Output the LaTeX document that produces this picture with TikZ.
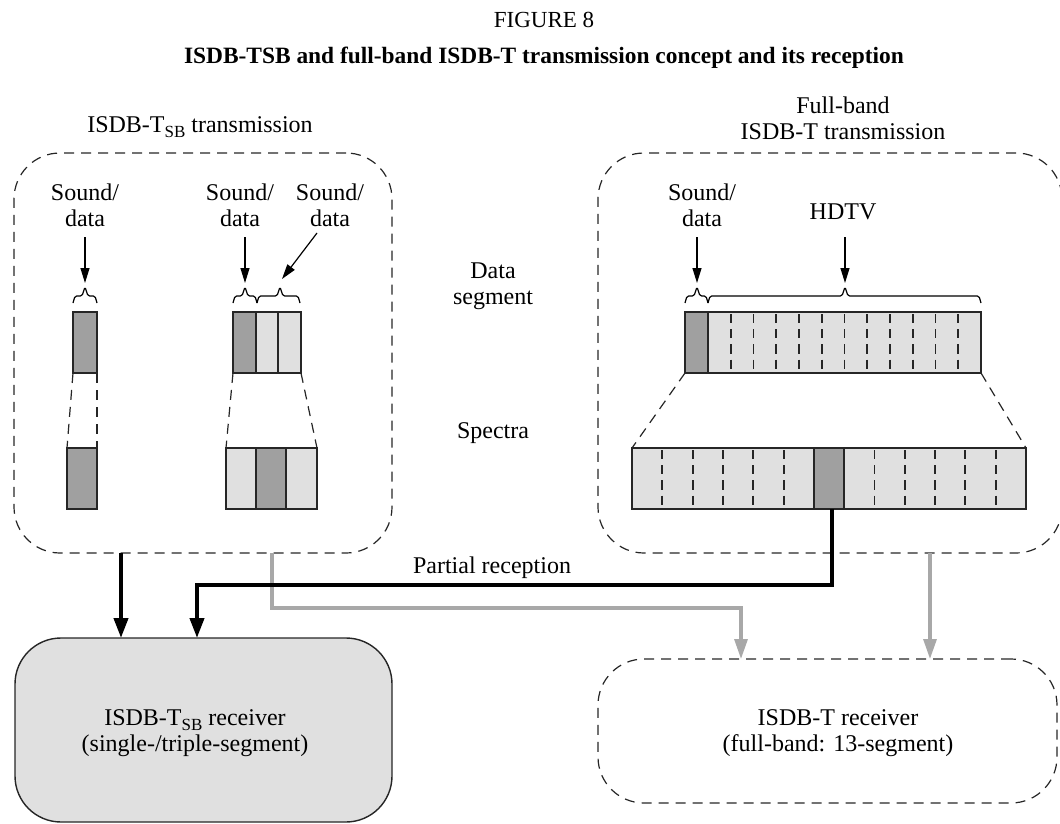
\documentclass[tikz,border=0pt]{standalone}
\usepackage{fontspec}
\setmainfont{Liberation Serif}
\usetikzlibrary{arrows.meta,fit}
\definecolor{dk}{HTML}{A0A0A0}
\definecolor{lt}{HTML}{E0E0E0}
\definecolor{gl}{HTML}{A8A8A8}
\newcommand{\mysubsb}{\raisebox{-0.5ex}{\fontsize{8.5}{9}\selectfont SB}}
\newcommand{\mybrace}[4]{%
  \draw[brc] (#1,303) -- (#1+2,296) -- (#2-3,296) -- (#2,287) -- (#2+3,296) -- (#3-2,296) -- (#3,303);
  \coordinate (#4) at (#2,283);}
\begin{document}
\begin{tikzpicture}[x=0.5pt,y=-0.5pt,
  lbl/.style={font=\fontsize{12}{13}\selectfont, align=center, inner sep=0pt},
  tbox/.style={draw=black!85, dash pattern=on 5pt off 3.5pt, line width=0.6pt, rounded corners=23pt, inner sep=0pt},
  rbox/.style={draw=black!85, fill=lt, line width=0.7pt, rounded corners=23pt, inner sep=0pt},
  seg/.style={draw=black!85, line width=0.9pt},
  dkseg/.style={seg, fill=dk},
  ltseg/.style={seg, fill=lt},
  thinarr/.style={-{Triangle[length=7.5pt,width=4.5pt]}, line width=0.6pt},
  brc/.style={line width=0.6pt, rounded corners=0.8pt},
  zoomline/.style={draw=black!85, dash pattern=on 5pt off 3.5pt, line width=0.6pt},
  divl/.style={draw=black!85, dash pattern=on 4.6pt off 3pt, line width=0.95pt},
  blk/.style={line width=2pt, -{Triangle[length=10pt,width=7pt]}},
  gry/.style={draw=gl, line width=1.6pt, -{Triangle[length=10pt,width=6.5pt]}}
]
\useasboundingbox (0,0) rectangle (1060,824);

% titles
\node[lbl, font=\fontsize{11.5}{12}\selectfont] (fig) at (544,20) {FIGURE 8};
\node[lbl, font=\fontsize{11.7}{12}\selectfont\bfseries] (ttl) at (544,58) {ISDB-TSB and full-band ISDB-T transmission concept and its reception};

% transmission boxes
\coordinate (L1) at (14,153); \coordinate (L2) at (392,553);
\node[tbox, fit=(L1)(L2)] (ltx) {};
\coordinate (R1) at (598,153); \coordinate (R2) at (1062,553);
\node[tbox, fit=(R1)(R2)] (rtx) {};

% labels
\node[lbl] (ltxl) at (200,127) {ISDB-T\mysubsb{} transmission};
\node[lbl] (rtxl) at (843,118) {Full-band\\ISDB-T transmission};
\node[lbl] (sd1) at (85,205) {Sound/\\data};
\node[lbl] (sd2) at (240,205) {Sound/\\data};
\node[lbl] (sd3) at (330,205) {Sound/\\data};
\node[lbl] (sd4) at (702,205) {Sound/\\data};
\node[lbl] (hd) at (843,212) {HDTV};
\node[lbl] (dseg) at (493,286) {Data\\segment};
\node[lbl] (spec) at (493,433) {Spectra};

% braces
\mybrace{73}{85}{97}{b1}
\mybrace{233}{245}{257}{b2}
\mybrace{257}{280}{300}{b3}
\mybrace{685}{697}{708}{b4}
\mybrace{708}{845}{981}{b5}

% label arrows
\coordinate (a1) at (85,237);
\coordinate (a2) at (245,237);
\coordinate (a3) at (317,233);
\coordinate (a4) at (697,237);
\coordinate (a5) at (845,237);
\coordinate (b3t) at (282,279);
\draw[thinarr] (a1) -- (b1);
\draw[thinarr] (a2) -- (b2);
\draw[thinarr] (a3) -- (b3t);
\draw[thinarr] (a4) -- (b4);
\draw[thinarr] (a5) -- (b5);

% data segments
\draw[dkseg] (73,312) rectangle (97,373);
\draw[dkseg] (233,312) rectangle (256,373);
\draw[ltseg] (256,312) rectangle (278,373);
\draw[ltseg] (278,312) rectangle (301,373);
\draw[ltseg] (708,312) rectangle (981,373);
\draw[dkseg] (685,312) rectangle (708,373);
\foreach \k in {1,...,11} {
  \draw[divl] (708+22.75*\k,314) -- (708+22.75*\k,371);
}

% spectra
\draw[dkseg] (67,448) rectangle (97,509);
\draw[ltseg] (226,448) rectangle (256,509);
\draw[ltseg] (286,448) rectangle (317,509);
\draw[dkseg] (256,448) rectangle (286,509);
\draw[ltseg] (632,448) rectangle (1026,509);
\coordinate (H1) at (813.8,448); \coordinate (H2) at (844.1,509);
\node[dkseg, fit=(H1)(H2), inner sep=0pt] (hdc) {};
\foreach \k in {1,...,5,8,9,10,11,12} {
  \draw[divl] (632+30.31*\k,450) -- (632+30.31*\k,507);
}

% zoom lines
\draw[zoomline] (73,373) -- (67,448);
\draw[zoomline] (97,373) -- (97,448);
\draw[zoomline] (233,373) -- (226,448);
\draw[zoomline] (301,373) -- (317,448);
\draw[zoomline] (685,373) -- (632,448);
\draw[zoomline] (981,373) -- (1026,448);

% receivers
\coordinate (RL1) at (15,638); \coordinate (RL2) at (392,822);
\node[rbox, fit=(RL1)(RL2)] (rxl) {};
\node[lbl] (rxlt) at (195,733) {ISDB-T\mysubsb{} receiver\\(single-/triple-segment)};
\coordinate (RR1) at (598,659); \coordinate (RR2) at (1057,803);
\node[tbox, fit=(RR1)(RR2)] (rxr) {};
\node[lbl] (rxrt) at (838,733) {ISDB-T receiver\\(full-band: 13-segment)};

% thick connectors
\coordinate (g0) at (272,553); \coordinate (t3) at (741,659);
\coordinate (g1) at (930,553); \coordinate (t4) at (930,659);
\draw[gry] (g0) -- (272,608) -- (741,608) -- (t3);
\draw[gry] (g1) -- (t4);
\coordinate (s1) at (121,553); \coordinate (t1) at (121,638);
\coordinate (p0) at (832,509); \coordinate (t2) at (197,638);
\draw[blk] (s1) -- (t1);
\draw[blk] (p0) -- (832,585) -- (197,585) -- (t2);
\node[lbl] (prl) at (492,568) {Partial reception};
\end{tikzpicture}
\end{document}
